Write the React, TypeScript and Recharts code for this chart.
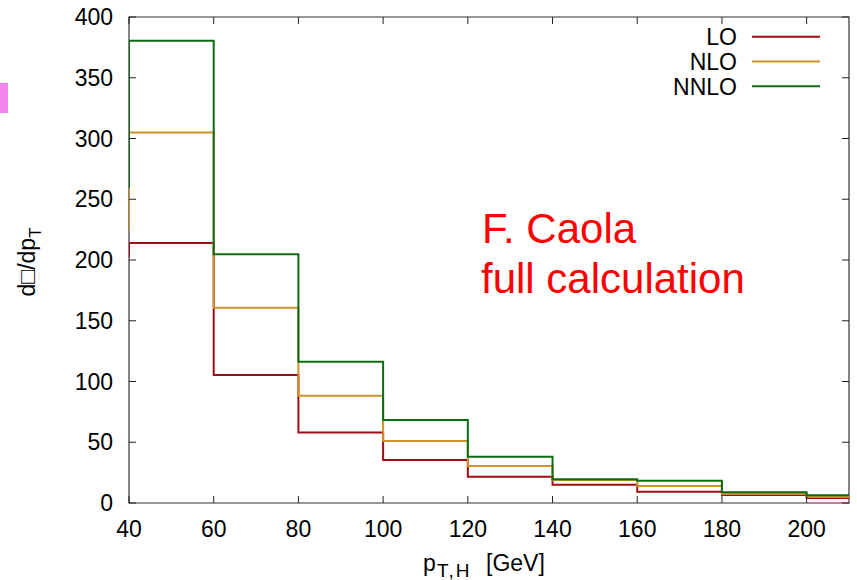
import React from 'react';
import { LineChart, Line, XAxis, YAxis, ReferenceArea } from 'recharts';

// histogram bin edges (left edge of each bin, last one closes the 200-210 bin)
const binEdges = [30, 40, 60, 80, 100, 120, 140, 160, 180, 200, 210];
const loValues = [203, 214, 105.3, 58, 35.4, 21.7, 15, 9.3, 6.6, 4.1, 4.1];
const nloValues = [225, 305, 160.7, 88.3, 51, 30.5, 19, 14, 7.5, 5, 5];
const nnloValues = [260, 380.5, 204.7, 116.3, 68.3, 38, 19.5, 18.4, 8.8, 6.3, 6.3];

const xTicks = [40, 60, 80, 100, 120, 140, 160, 180, 200];
const yTicks = [0, 50, 100, 150, 200, 250, 300, 350, 400];

const series = [
  { key: 'lo', name: 'LO', color: '#9e0c16' },
  { key: 'nlo', name: 'NLO', color: '#cc922c' },
  { key: 'nnlo', name: 'NNLO', color: '#0f6b13' },
];

const data = binEdges.map((pt, i) => ({
  pt,
  lo: loValues[i],
  nlo: nloValues[i],
  nnlo: nnloValues[i],
}));

const W = 857;
const H = 580;
const MARGIN = { top: 17, right: 8, left: 29, bottom: 0 };
const Y_AXIS_W = 100;
const X_AXIS_H = 77;
const PLOT_LEFT = MARGIN.left + Y_AXIS_W;
const PLOT_RIGHT = W - MARGIN.right;
const PLOT_TOP = MARGIN.top;
const PLOT_BOTTOM = H - X_AXIS_H;
const FONT = '"Liberation Sans", Arial, Helvetica, sans-serif';
const TICK_LEN = 7;

const YTick = (props: any) => {
  const { y, payload } = props;
  return (
    <g>
      <line x1={PLOT_LEFT} x2={PLOT_LEFT + TICK_LEN} y1={y} y2={y} stroke="#222" />
      <line x1={PLOT_RIGHT - TICK_LEN} x2={PLOT_RIGHT} y1={y} y2={y} stroke="#222" />
      <text x={PLOT_LEFT - 16} y={y + 8} textAnchor="end" fontSize={23} fontFamily={FONT} fill="#000">
        {payload.value}
      </text>
    </g>
  );
};

const XTick = (props: any) => {
  const { x, payload } = props;
  return (
    <g>
      <line x1={x} x2={x} y1={PLOT_BOTTOM} y2={PLOT_BOTTOM - TICK_LEN} stroke="#222" />
      <line x1={x} x2={x} y1={PLOT_TOP} y2={PLOT_TOP + TICK_LEN} stroke="#222" />
      <text x={x} y={PLOT_BOTTOM + 34} textAnchor="middle" fontSize={23} fontFamily={FONT} fill="#000">
        {payload.value}
      </text>
    </g>
  );
};

const XLabel = () => (
  <text y={571} fontSize={23} fontFamily={FONT} fill="#000">
    <tspan x={423}>p</tspan>
    <tspan x={437} fontSize={19} dy={6} letterSpacing={2}>T,H</tspan>
    <tspan x={486} dy={-6}>[GeV]</tspan>
  </text>
);

const YLabel = () => (
  <text
    x={35}
    y={262}
    transform="rotate(-90, 35, 262)"
    textAnchor="middle"
    fontSize={23}
    fontFamily={FONT}
    fill="#000"
  >
    d□/dp
    <tspan fontSize={17} dy={6}>T</tspan>
  </text>
);

export default function App() {
  return (
    <div style={{ position: 'absolute', left: 0, top: 0, width: W, height: H, background: '#fff' }}>
      <LineChart width={W} height={H} data={data} margin={MARGIN}>
        <XAxis
          dataKey="pt"
          type="number"
          domain={[40, 210]}
          allowDataOverflow
          ticks={xTicks}
          interval={0}
          height={X_AXIS_H}
          axisLine={false}
          tickLine={false}
          tick={<XTick />}
          label={<XLabel />}
        />
        <YAxis
          type="number"
          domain={[0, 400]}
          allowDataOverflow
          ticks={yTicks}
          interval={0}
          width={Y_AXIS_W}
          axisLine={false}
          tickLine={false}
          tick={<YTick />}
          label={<YLabel />}
        />
        <ReferenceArea x1={40} x2={210} y1={0} y2={400} fill="none" stroke="#333" strokeWidth={1.2} />
        {series.map((s) => (
          <Line
            key={s.key}
            dataKey={s.key}
            name={s.name}
            type="stepAfter"
            stroke={s.color}
            strokeWidth={2}
            dot={false}
            activeDot={false}
            isAnimationActive={false}
          />
        ))}
      </LineChart>
      <svg
        width={W}
        height={H}
        style={{ position: 'absolute', left: 0, top: 0, pointerEvents: 'none' }}
      >
        <rect x={0} y={83} width={8} height={30} fill="#f585ee" />
        {series.map((s, i) => (
          <g key={s.key}>
            <text x={737} y={45 + i * 24.8} textAnchor="end" fontSize={23} fontFamily={FONT} fill="#000">
              {s.name}
            </text>
            <line x1={752} x2={820} y1={36.7 + i * 24.8} y2={36.7 + i * 24.8} stroke={s.color} strokeWidth={2} />
          </g>
        ))}
        <text x={482} y={243} fontSize={42} fontFamily={FONT} fill="#ff0000">
          F. Caola
        </text>
        <text x={481} y={293} fontSize={42} fontFamily={FONT} fill="#ff0000">
          full calculation
        </text>
      </svg>
    </div>
  );
}
